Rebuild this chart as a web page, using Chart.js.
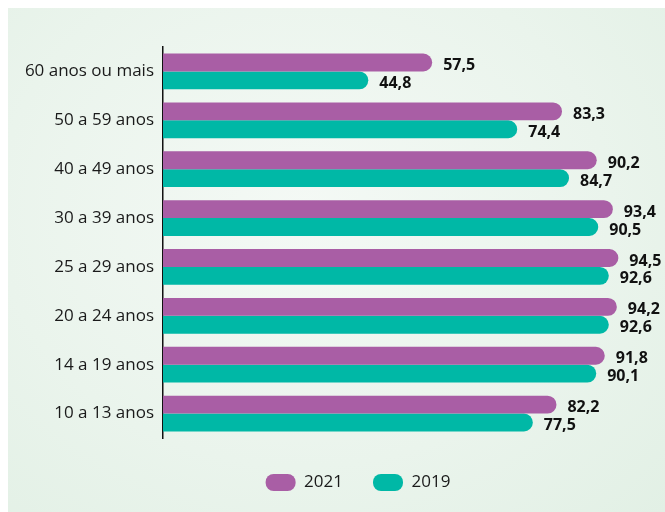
<!DOCTYPE html>
<html>
<head>
<meta charset="utf-8">
<script src="https://cdn.jsdelivr.net/npm/chart.js@4/dist/chart.umd.min.js"></script>
<style>
  html, body { margin: 0; padding: 0; background: #fff; overflow: hidden; }
  #wrap { position: relative; width: 665px; height: 512px; overflow: hidden; }
  #panel {
    position: absolute; left: 8px; top: 8px; width: 657px; height: 504px;
    background: radial-gradient(ellipse at 45% 40%, #f4f9f5 0%, #eaf4ec 60%, #e2f0e5 100%);
  }
  #myChart { position: absolute; left: 0; top: 0; }
</style>
</head>
<body>
<div id="wrap">
  <div id="panel"></div>
  <canvas id="myChart" width="665" height="501" style="width:665px;height:501px;"></canvas>
</div>
<script>
// faixas etarias (de cima para baixo)
const labels_idade = ["60 anos ou mais", "50 a 59 anos", "40 a 49 anos", "30 a 39 anos",
	"25 a 29 anos", "20 a 24 anos", "14 a 19 anos", "10 a 13 anos"];
const data_2021 = [57.5, 83.3, 90.2, 93.4, 94.5, 94.2, 91.8, 82.2];
const data_2019 = [44.8, 74.4, 84.7, 90.5, 92.6, 92.6, 90.1, 77.5];

const corRoxo = "#a95ea5";
const corVerde = "#00b8a6";

// rotulos de valor ao lado de cada barra
const valueLabels = {
	id: "valueLabels",
	afterDatasetsDraw(chart) {
		const ctx = chart.ctx;
		ctx.save();
		ctx.font = "700 16px 'Open Sans'";
		ctx.fillStyle = "#111";
		ctx.textAlign = "left";
		ctx.textBaseline = "middle";
		chart.data.datasets.forEach((ds, i) => {
			chart.getDatasetMeta(i).data.forEach((bar, j) => {
				let txt = ds.data[j].toFixed(1).replace(".", ",");
				ctx.fillText(txt, bar.x + 11, bar.y + 3);
			});
		});
		ctx.restore();
	}
};

// legenda um pouco deslocada para a direita, como no original
const moveLegend = {
	id: "moveLegend",
	afterLayout(chart) {
		chart.legend.left += 38;
		chart.legend.right += 38;
	}
};

const ctx1 = document.getElementById("myChart").getContext("2d");

let myChart = new Chart(ctx1, {
	type: "bar",
	data: {
		labels: labels_idade,
		datasets: [
			{
				label: "2021",
				data: data_2021,
				backgroundColor: corRoxo,
				borderRadius: 9,
				borderSkipped: "start",
				barPercentage: 1,
				categoryPercentage: 0.73,
			},
			{
				label: "2019",
				data: data_2019,
				backgroundColor: corVerde,
				borderRadius: 9,
				borderSkipped: "start",
				barPercentage: 1,
				categoryPercentage: 0.73,
			}
		],
	},
	options: {
		indexAxis: "y",
		responsive: false,
		animation: false,
		layout: {
			padding: { top: 47, left: 0, right: 25, bottom: 0 }
		},
		scales: {
			x: {
				min: 4,
				max: 98.8,
				ticks: { display: false },
				grid: { display: false },
				border: { display: false },
				afterFit: (s) => { s.height = 6; }
			},
			y: {
				grid: { display: false, drawTicks: false },
				border: { display: true, color: "#111", width: 1.5 },
				ticks: {
					color: "#1a1a1a",
					padding: 9,
					font: { family: "'Open Sans'", size: 17 }
				},
				afterFit: (s) => { s.width = 163; }
			}
		},
		plugins: {
			legend: {
				position: "bottom",
				labels: {
					color: "#1a1a1a",
					boxWidth: 30,
					boxHeight: 17,
					useBorderRadius: true,
					borderRadius: 8,
					padding: 30,
					font: { family: "'Open Sans'", size: 17 }
				}
			},
			tooltip: { enabled: false }
		}
	},
	plugins: [valueLabels, moveLegend]
});
</script>
</body>
</html>
